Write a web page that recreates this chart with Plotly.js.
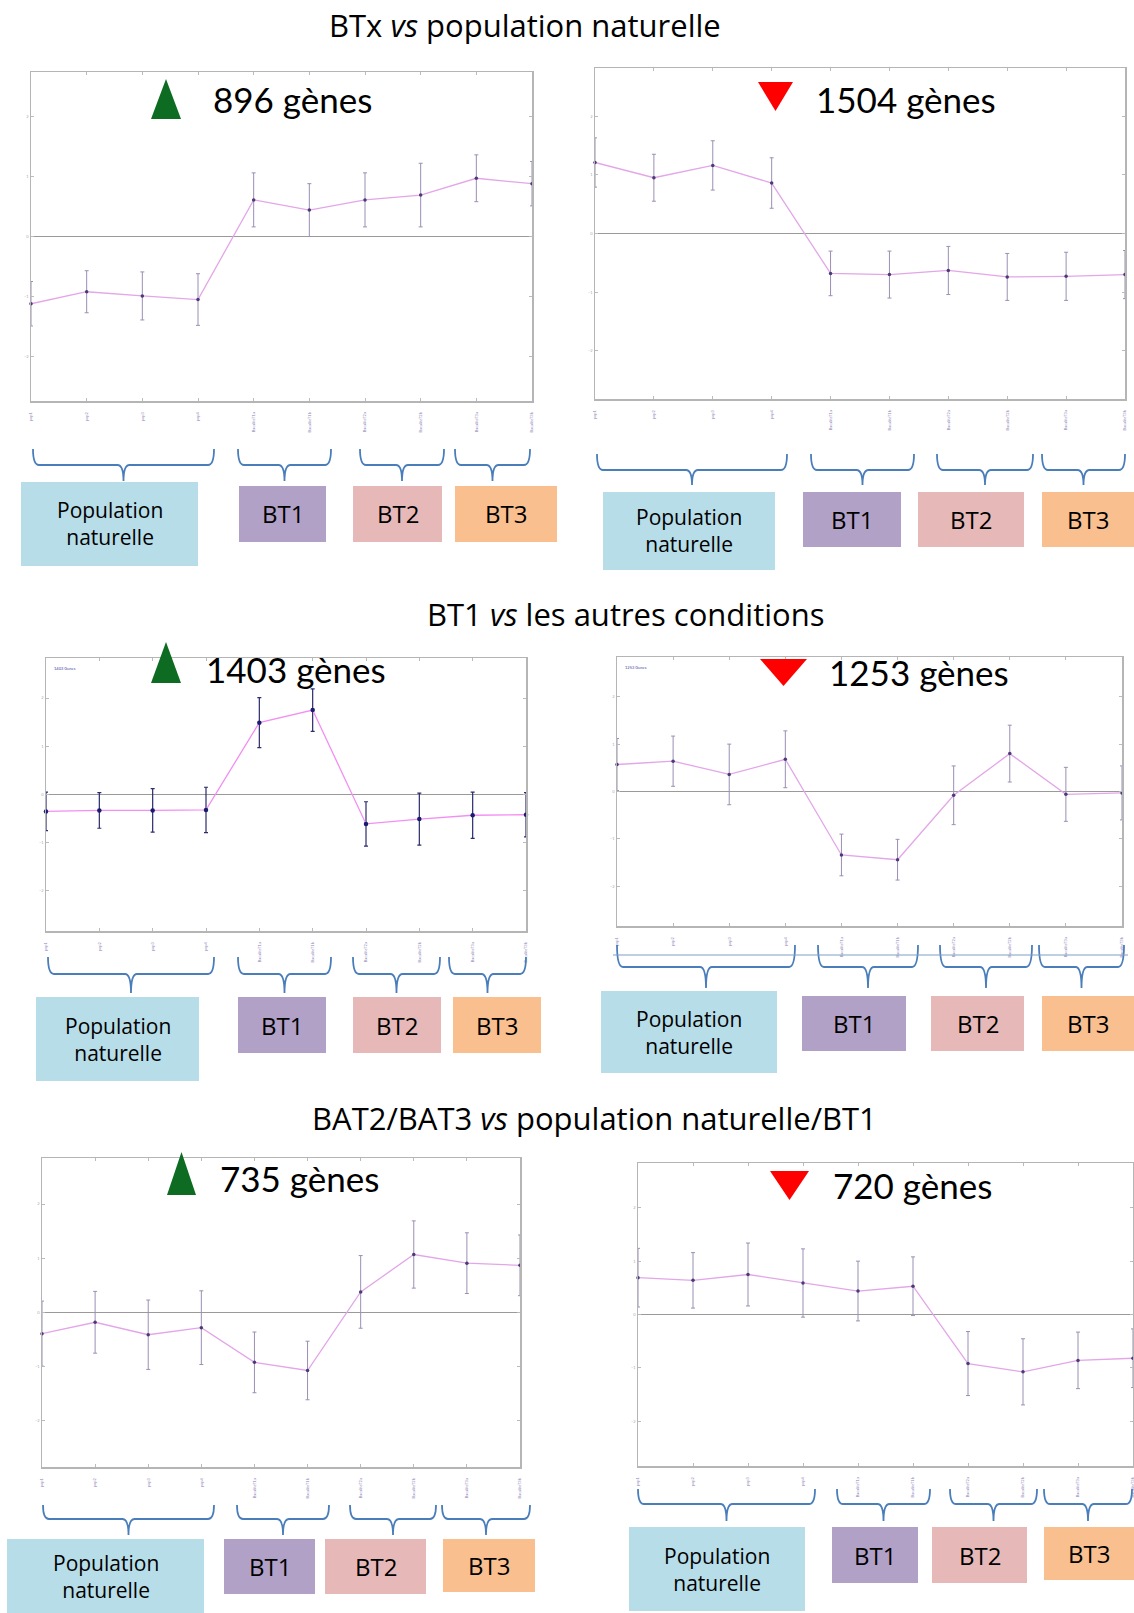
<!DOCTYPE html>
<html><head><meta charset="utf-8">
<script src="https://cdn.plot.ly/plotly-3.0.1.min.js"></script>
<style>html,body{margin:0;padding:0;background:#fff}#chart{width:1134px;height:1613px}</style>
</head><body><div id="chart"></div>
<script>
// ---------- DATA ----------
const categories = ["pop1","pop2","pop3","pop4","BacaliteT1a","BacaliteT1b","BacaliteT2a","BacaliteT2b","BacaliteT3a","BacaliteT3b"];
const yTickVals = [-2,-1,0,1,2];
const groupLabels = ["Population<br>naturelle","BT1","BT2","BT3"];
const sectionTitles = ["BTx <i>vs</i> population naturelle","BT1 <i>vs</i> les autres conditions","BAT2/BAT3 <i>vs</i> population naturelle/BT1"];
const geneCounts = ["896 gènes","1504 gènes","1403 gènes","1253 gènes","735 gènes","720 gènes"];
const directions = ["up","down","up","down","up","down"];
const innerLabels = ["","","1403 Genes","1253 Genes","",""];

const btxUpMean   = [-1.12,-0.92,-0.99,-1.05,0.61,0.44,0.61,0.69,0.97,0.88];
const btxUpErr    = [0.37,0.35,0.40,0.43,0.45,0.44,0.45,0.53,0.39,0.37];
const btxDownMean = [1.21,0.95,1.16,0.86,-0.68,-0.70,-0.63,-0.74,-0.73,-0.70];
const btxDownErr  = [0.42,0.40,0.42,0.43,0.38,0.40,0.41,0.40,0.41,0.41];
const bt1UpMean   = [-0.35,-0.33,-0.33,-0.32,1.49,1.75,-0.61,-0.51,-0.43,-0.42];
const bt1UpErr    = [0.40,0.37,0.45,0.47,0.52,0.44,0.46,0.54,0.48,0.46];
const bt1DownMean = [0.57,0.64,0.36,0.68,-1.34,-1.44,-0.08,0.80,-0.06,-0.03];
const bt1DownErr  = [0.55,0.53,0.64,0.60,0.44,0.43,0.62,0.60,0.57,0.57];
const batUpMean   = [-0.39,-0.18,-0.41,-0.28,-0.92,-1.07,0.38,1.07,0.91,0.87];
const batUpErr    = [0.60,0.57,0.64,0.68,0.56,0.54,0.67,0.62,0.56,0.56];
const batDownMean = [0.69,0.64,0.75,0.59,0.44,0.53,-0.92,-1.075,-0.86,-0.82];
const batDownErr  = [0.55,0.52,0.59,0.64,0.56,0.55,0.60,0.62,0.53,0.55];

const seriesMeans = [btxUpMean,btxDownMean,bt1UpMean,bt1DownMean,batUpMean,batDownMean];
const seriesErrs  = [btxUpErr,btxDownErr,bt1UpErr,bt1DownErr,batUpErr,batDownErr];

// ---------- LAYOUT GEOMETRY (pixels) ----------
const W = 1134, H = 1613;
const panels = [
 {frame:[31,532,72,401], r:2.74, tri:[151,181,79,119], lab:[211,99],
  braces:[[33,214],[238,331],[360,444],[455,530]], by:[449,465,481],
  boxes:[[21,198,482,566],[239,326,486,542],[353,442,486,542],[455,557,486,542]]},
 {frame:[595,1125,68,399], r:2.82, tri:[758,793,82,111], lab:[814,99],
  braces:[[597,787],[811,914],[937,1033],[1042,1125]], by:[454,470,485],
  boxes:[[603,775,492,570],[803,901,492,547],[918,1024,492,547],[1042,1134,492,547]]},
 {frame:[46,526,658,931], r:2.83, tri:[151,181,642,683], lab:[204,669],
  braces:[[48,214],[238,331],[353,440],[449,526]], by:[957,974,993],
  boxes:[[36,199,997,1081],[238,326,997,1053],[353,441,997,1053],[453,541,997,1053]]},
 {frame:[617,1122,657,926], r:2.84, tri:[760,807,659,686], lab:[827,672],
  braces:[[617,795],[818,918],[940,1032],[1039,1124]], by:[945,967,988],
  boxes:[[601,777,991,1073],[802,906,996,1051],[931,1024,996,1051],[1042,1134,996,1051]]},
 {frame:[42,520,1158,1467], r:2.85, tri:[167,196,1152,1195], lab:[218,1178],
  braces:[[43,214],[237,329],[350,436],[442,530]], by:[1505,1519,1535],
  boxes:[[7,204,1539,1613],[224,315,1539,1594],[325,426,1539,1594],[443,535,1539,1592]]},
 {frame:[638,1133,1163,1466], r:2.84, tri:[770,809,1171,1200], lab:[831,1185],
  braces:[[638,815],[837,930],[950,1037],[1044,1132]], by:[1489,1504,1521],
  boxes:[[629,805,1527,1611],[832,918,1527,1583],[932,1027,1527,1583],[1044,1134,1527,1580]]}
];
const titlePos = [[525,25],[625,614],[594,1118]];
const boxColors = ["#b7dde8","#b2a1c7","#e6b9b8","#f9bf8f"];
const FONT = "Lato, 'Open Sans', sans-serif";
const WIDE = "'Open Sans', Lato, sans-serif";

const px = x => x / W;
const py = y => 1 - y / H;

const data = [];
const layout = {
  width: W, height: H, margin:{l:0,r:0,t:0,b:0},
  paper_bgcolor:"#ffffff", plot_bgcolor:"#ffffff",
  showlegend:false, shapes:[], annotations:[], font:{family:FONT}
};

panels.forEach((p, i) => {
  const n = i + 1;
  const xa = n === 1 ? "x" : "x" + n, ya = n === 1 ? "y" : "y" + n;
  const xk = n === 1 ? "xaxis" : "xaxis" + n, yk = n === 1 ? "yaxis" : "yaxis" + n;
  const dark = i === 2;
  data.push({
    type:"scatter", mode:"lines+markers", x:categories, y:seriesMeans[i],
    xaxis:xa, yaxis:ya, cliponaxis:false,
    line:{color: dark ? "#f28ff2" : "#e3a6e8", width:1.3},
    marker:{color: dark ? "#1c1c6e" : "#4a3a78", size: dark ? 4.5 : 3.5},
    error_y:{type:"data", array:seriesErrs[i], visible:true,
      color: dark ? "#2b2b6e" : "#9b8fb4", thickness: dark ? 1.2 : 1, width:2}
  });
  const [L,R,T,B] = p.frame;
  layout[xk] = {
    domain:[px(L), px(R)], anchor:ya, type:"category", range:[0,9],
    showline:true, mirror:"allticks", linecolor:"#b5b5b5", linewidth:1.5,
    ticks:"inside", ticklen:3, tickcolor:"#bbbbbb", showgrid:false, zeroline:false,
    tickangle:-90, tickfont:{size:4, color:"#8f84b8", family:FONT}, ticklabelstandoff:8
  };
  layout[yk] = {
    domain:[py(B), py(T)], anchor:xa, range:[-p.r, p.r],
    tickvals:yTickVals, showline:true, mirror:"allticks", linecolor:"#b5b5b5", linewidth:1.5,
    ticks:"inside", ticklen:3, tickcolor:"#bbbbbb", showgrid:false,
    zeroline:true, zerolinecolor:"#9a9a9a", zerolinewidth:1.5,
    tickfont:{size:4, color:"#aaaaaa", family:FONT}
  };
  // triangle
  const [tx1,tx2,ty1,ty2] = p.tri, tm = (tx1+tx2)/2;
  const tpath = directions[i] === "up"
    ? `M ${px(tx1)},${py(ty2)} L ${px(tx2)},${py(ty2)} L ${px(tm)},${py(ty1)} Z`
    : `M ${px(tx1)},${py(ty1)} L ${px(tx2)},${py(ty1)} L ${px(tm)},${py(ty2)} Z`;
  layout.shapes.push({type:"path", xref:"paper", yref:"paper", path:tpath,
    fillcolor: directions[i] === "up" ? "#0e6b22" : "#ff0000", line:{width:0}});
  layout.annotations.push({xref:"paper", yref:"paper", x:px(p.lab[0]), y:py(p.lab[1]),
    xanchor:"left", yanchor:"middle", showarrow:false, text:geneCounts[i],
    font:{size:35, color:"#000", family:FONT}});
  if (innerLabels[i]) {
    layout.annotations.push({xref:"paper", yref:"paper", x:px(L+6), y:py(T+10),
      xanchor:"left", yanchor:"middle", showarrow:false, text:innerLabels[i],
      font:{size:4, color:"#4040a0", family:FONT}});
  }
  // braces
  const [yTop,yMid,yTip] = p.by;
  p.braces.forEach(([x1,x2]) => {
    const xc = (x1+x2)/2, rr = 6;
    const path = `M ${px(x1)},${py(yTop)} Q ${px(x1)},${py(yMid)} ${px(x1+rr)},${py(yMid)} `+
      `L ${px(xc-rr)},${py(yMid)} Q ${px(xc)},${py(yMid)} ${px(xc)},${py(yTip)} `+
      `Q ${px(xc)},${py(yMid)} ${px(xc+rr)},${py(yMid)} L ${px(x2-rr)},${py(yMid)} `+
      `Q ${px(x2)},${py(yMid)} ${px(x2)},${py(yTop)}`;
    layout.shapes.push({type:"path", xref:"paper", yref:"paper", path:path,
      line:{color:"#4a7ebb", width:1.8}});
  });
  // boxes
  p.boxes.forEach(([x1,x2,y1,y2], k) => {
    layout.shapes.push({type:"rect", xref:"paper", yref:"paper",
      x0:px(x1), x1:px(x2), y0:py(y2), y1:py(y1), fillcolor:boxColors[k], line:{width:0}});
    layout.annotations.push({xref:"paper", yref:"paper", x:px((x1+x2)/2), y:py((y1+y2)/2),
      xanchor:"center", yanchor:"middle", showarrow:false, text:groupLabels[k],
      font:{size: k === 0 ? 21 : 24, color:"#000", family:WIDE}});
  });
});
// stray line in panel 4
layout.shapes.push({type:"line", xref:"paper", yref:"paper", x0:px(613), x1:px(1128), y0:py(955), y1:py(955),
  line:{color:"#7f9fc6", width:1.2}});

sectionTitles.forEach((t, k) => {
  layout.annotations.push({xref:"paper", yref:"paper", x:px(titlePos[k][0]), y:py(titlePos[k][1]),
    xanchor:"center", yanchor:"middle", showarrow:false, text:t,
    font:{size:31, color:"#000", family:WIDE}});
});

Plotly.newPlot("chart", data, layout, {displayModeBar:false, staticPlot:true});
</script></body></html>
